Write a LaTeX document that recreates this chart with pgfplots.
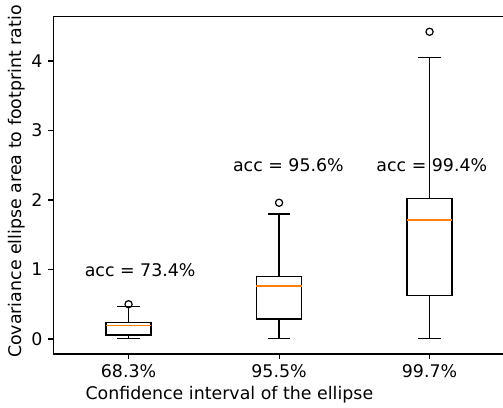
\documentclass[border=0pt]{standalone}
\usepackage{fontspec}
\setmainfont{DejaVu Sans}
\usepackage{pgfplots}
\pgfplotsset{compat=1.18}
\usepgfplotslibrary{statistics}
\definecolor{mplorange}{HTML}{FF7F0E}
\begin{document}
\fontsize{17.4}{21}\selectfont
\begin{tikzpicture}
\begin{axis}[
  scale only axis, width=451.5pt, height=337.5pt,
  xmin=0.5, xmax=3.5, ymin=-0.216, ymax=4.64,
  axis line style={black, line width=1.1pt},
  xtick={1,2,3}, xticklabels={68.3\%,95.5\%,99.7\%},
  ytick={0,1,2,3,4},
  xtick pos=left, ytick pos=left,
  tick align=outside, major tick length=4.9pt,
  every tick/.style={black, line width=1.1pt},
  /pgf/number format/assume math mode=true,
  ticklabel style={font=\fontsize{17.4}{21}\selectfont},
  xlabel={Confidence interval of the ellipse},
  ylabel={Covariance ellipse area to footprint ratio},
  xlabel style={at={(axis description cs:0.390,0)}, anchor=base, yshift=-45.3pt},
  ylabel style={at={(axis description cs:-0.0804,0.511)}, anchor=center},
  boxplot/draw direction=y,
  boxplot/box extend=0.3,
  boxplot/whisker extend=0.15,
  boxplot/every median/.style={draw=mplorange, line width=1.39pt},
  clip=false,
]
\addplot[black, line width=1.39pt, mark=o, mark size=3.6pt, mark options={black, line width=1.2pt},
  boxplot prepared={lower whisker=0.005, lower quartile=0.058, median=0.19, upper quartile=0.235, upper whisker=0.465, draw position=1}]
  table[row sep=\\, y index=0]{data\\ 0.50\\};
\addplot[black, line width=1.39pt, mark=o, mark size=3.6pt, mark options={black, line width=1.2pt},
  boxplot prepared={lower whisker=0.01, lower quartile=0.29, median=0.76, upper quartile=0.90, upper whisker=1.80, draw position=2}]
  table[row sep=\\, y index=0]{data\\ 1.96\\};
\addplot[black, line width=1.39pt, mark=o, mark size=3.6pt, mark options={black, line width=1.2pt},
  boxplot prepared={lower whisker=0.01, lower quartile=0.63, median=1.71, upper quartile=2.02, upper whisker=4.05, draw position=3}]
  table[row sep=\\, y index=0]{data\\ 4.42\\};
\node[anchor=base west, inner sep=0pt] at (axis cs:0.708,0.906) {acc = 73.4\%};
\node[anchor=base west, inner sep=0pt] at (axis cs:1.693,2.407) {acc = 95.6\%};
\node[anchor=base west, inner sep=0pt] at (axis cs:2.646,2.407) {acc = 99.4\%};
\coordinate (O) at (rel axis cs:0,0);
\end{axis}
\pgfresetboundingbox
\path (O) ++(-53.3pt,-53pt) rectangle ++(503pt,407pt);
\end{tikzpicture}
\end{document}
